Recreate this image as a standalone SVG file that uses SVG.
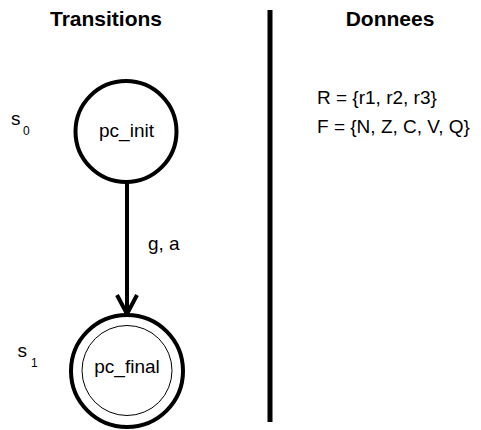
<svg xmlns="http://www.w3.org/2000/svg" width="481" height="430" viewBox="0 0 481 430">
<style>
text{font-family:"Liberation Sans",Arial,sans-serif;fill:#000}
.title{font-size:21px;font-weight:bold;text-anchor:middle}
.lbl{font-size:19px}
.mid{text-anchor:middle}
.sub{font-size:12px}
.node{fill:#fff;stroke:#000;stroke-width:4}
.inner{fill:none;stroke:#000;stroke-width:1}
.edge{fill:none;stroke:#000;stroke-width:4}
</style>
<rect width="481" height="430" fill="#fff"/>
<text class="title" x="106" y="26">Transitions</text>
<text class="title" x="390" y="26">Donnees</text>
<line x1="270" y1="10" x2="270" y2="422" stroke="#000" stroke-width="5"/>
<text class="lbl" x="317" y="104">R = {r1, r2, r3}</text>
<text class="lbl" x="317" y="133">F = {N, Z, C, V, Q}</text>
<g id="connectors">
<line class="edge" x1="127" y1="182" x2="127" y2="313"/>
<polyline class="edge" points="117,295 127,314 137,295"/>
<text class="lbl" x="148" y="250">g, a</text>
</g>
<g id="s0">
<circle class="node" cx="126" cy="131.5" r="50.5"/>
<text class="lbl mid" x="126.5" y="137">pc_init</text>
<text class="lbl" x="11" y="125">s</text>
<text class="sub" x="23" y="135">0</text>
</g>
<g id="s1">
<circle class="node" cx="127" cy="371" r="56"/>
<circle class="inner" cx="127" cy="370.5" r="45"/>
<text class="lbl mid" x="127" y="373">pc_final</text>
<text class="lbl" x="17.5" y="357">s</text>
<text class="sub" x="31" y="367">1</text>
</g>
</svg>
